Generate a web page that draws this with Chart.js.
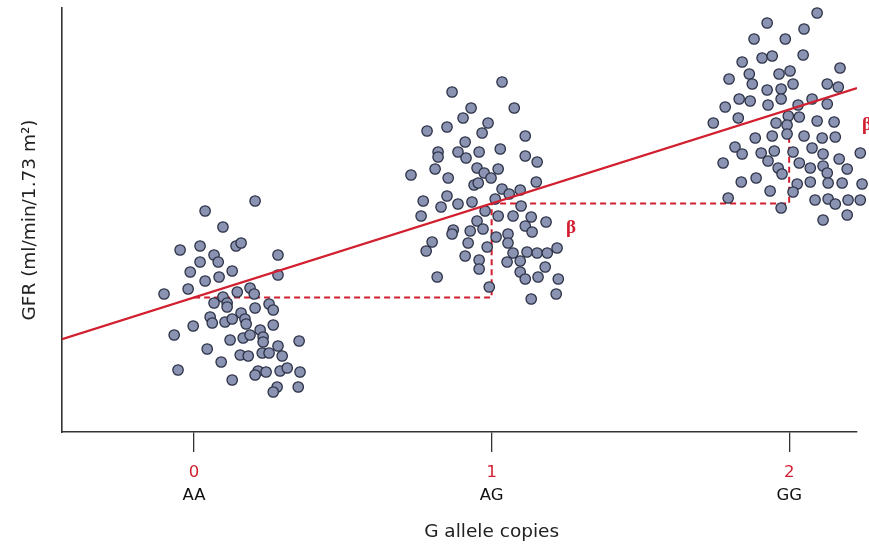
<!DOCTYPE html>
<html lang="en">
<head>
  <meta charset="UTF-8" />
  <title>GFR by G allele copies</title>
  <script src="https://cdn.jsdelivr.net/npm/chart.js"></script>
  <style>
    *{margin:0;padding:0;box-sizing:border-box}
    html,body{width:869px;height:545px;background:#fff;overflow:hidden}
    .wrap{position:relative;width:869px;height:545px}
  </style>
</head>
<body>
  <div class="wrap"><canvas id="chart"></canvas></div>
  <script>
    // x axis ticks and labels
    const alleleCounts = [0, 1, 2];
    const genotypes = ['AA', 'AG', 'GG'];
    const xTitle = 'G allele copies';
    const yTitle = 'GFR (ml/min/1.73 m²)';

    // AA group (x = allele copies incl. jitter, y = GFR, arbitrary units)
    const aaX = [0.205,0.037,0.097,-0.047,0.020,0.141,0.158,0.067,0.081,0.282,0.020,-0.013,0.128,0.037,0.084,0.282,
      -0.101,-0.020,0.145,0.188,0.202,0.097,0.067,0.111,0.111,0.252,0.266,0.205,0.158,0.054,0.061,0.104,0.128,0.171,
      0.175,-0.003,0.266,-0.067,0.121,0.165,0.188,0.222,0.232,0.232,0.353,0.044,0.282,0.155,0.182,0.229,0.252,0.296,
      0.091,-0.054,0.215,0.242,0.289,0.313,0.356,0.128,0.205,0.279,0.266,0.350];
    const aaY = [57.75,55.25,51.25,45.5,46.5,46.5,47.25,44.25,42.5,44.25,42.5,40,40.25,37.75,38.75,39.25,
      34.5,35.75,35,36,34.5,33.75,32.25,32.25,31.25,32,30.5,31,29.75,28.75,27.25,27.5,28.25,28.25,
      27,26.5,26.75,24.25,23,23.5,24.25,25.5,23.75,22.5,22.75,20.75,21.5,19.25,19,19.75,19.75,19,
      17.5,15.5,15.25,15,15.25,16,15,13,14.25,11.25,10,11.25];

    // AG group
    const agX = [1.035,0.867,0.931,1.076,0.904,0.988,0.783,0.850,0.968,1.113,0.911,0.820,0.820,0.887,0.914,0.958,
      1.029,1.113,1.153,0.810,0.729,0.951,0.975,0.998,1.022,0.854,0.941,0.955,1.150,1.035,1.059,1.096,0.850,0.770,
      0.887,0.934,1.012,0.830,1.099,0.978,0.763,0.951,1.022,1.072,1.133,1.183,0.871,0.867,0.928,0.971,1.113,1.136,
      1.015,1.055,1.055,0.800,0.780,0.921,0.985,1.072,1.119,1.153,1.187,1.220,0.911,0.958,0.958,1.052,1.096,1.096,
      1.113,1.156,1.180,1.224,0.817,0.992,1.133,1.217];
    const agY = [87.5,85,81,81,78.5,77.25,75.25,76.25,74.75,74,72.5,70,68.75,70,68.5,70,
      70.75,69,67.5,65.75,64.25,66,64.75,63.5,65.75,63.5,61.75,62.25,62.5,60.75,59.5,60.5,59,57.75,
      57,57.5,58.25,56.25,56.5,55.25,54,52.75,54,54,53.75,52.5,50.5,49.5,50.25,50.75,51.5,50,
      48.75,49.5,47.25,47.5,45.25,47.25,46.25,44.75,45,44.75,44.75,46,44,43,40.75,42.5,42.75,40,
      38.25,38.75,41.25,38.25,38.75,36.25,33.25,34.5];

    // GG group
    const ggX = [2.094,1.926,2.050,1.882,1.987,1.909,1.943,2.047,1.842,2.171,1.866,1.876,1.966,2.003,1.798,1.926,
      1.973,2.013,2.128,2.165,1.832,1.869,1.929,1.973,2.030,2.077,2.128,1.785,1.829,1.997,2.034,1.745,2.094,2.151,
      1.956,1.993,1.943,1.886,1.993,2.050,2.111,2.155,1.818,1.842,1.906,1.950,2.013,2.077,2.114,2.239,1.778,1.929,
      2.034,2.071,2.114,2.168,1.963,1.976,2.128,2.195,1.839,1.889,2.027,2.013,2.071,2.131,2.178,2.245,1.936,1.795,
      2.087,2.131,2.155,2.198,2.239,1.973,2.114,2.195];
    const ggY = [104.75,102.25,100.75,98.25,98.25,93.5,94,94.25,92.5,91,89.5,87,89.5,90.25,88.25,85.5,
      85.75,87,87,86.25,83.25,82.75,81.75,83.25,81.75,83.25,82,81.25,78.5,79,78.75,77.25,77.75,77.5,
      77.25,76.75,74,73.5,74.5,74,73.5,73.75,71.25,69.5,69.75,70.25,70,71,69.5,69.75,67.25,67.75,
      67.25,66,66.5,68.25,66,64.5,64.75,65.75,62.5,63.5,62,60,62.5,62.25,62.25,62,60.25,58.5,
      58,58.25,57,58,58,56,53,54.25];

    // regression line ends and the beta steps
    const fitX = [-0.444, 2.228];
    const fitY = [23.2, 86.0];
    const stepX = [0, 1, 1, 2, 2];
    const stepY = [33.6, 33.6, 57.1, 57.1, 79.3];
    const betaX = [1.267, 2.262];
    const betaY = [51, 76.75];

    const RED = '#d21f2f';
    const FONT = '"DejaVu Sans", "Liberation Sans", sans-serif';
    const pts = (xs, ys) => xs.map((x, i) => ({x: x, y: ys[i]}));
    const dotStyle = {
      type: 'scatter', pointRadius: 5.2, pointHoverRadius: 5.2, pointBorderWidth: 1.3,
      backgroundColor: '#8a93b1', borderColor: '#2c3146', clip: false, order: 1
    };

    // beta labels and the x title (centred under x = 1, as in the figure)
    const annotations = {
      id: 'annotations',
      afterDraw(chart) {
        const {ctx, scales: {x, y}} = chart;
        ctx.save();
        ctx.textAlign = 'center';
        ctx.textBaseline = 'middle';
        ctx.fillStyle = RED;
        ctx.font = 'bold 19px "Liberation Serif", serif';
        betaX.forEach((v, i) => ctx.fillText('β', x.getPixelForValue(v), y.getPixelForValue(betaY[i])));
        ctx.fillStyle = '#222';
        ctx.font = '18.5px ' + FONT;
        ctx.fillText(xTitle, x.getPixelForValue(alleleCounts[1]), 532);
        ctx.restore();
      }
    };

    new Chart(document.getElementById('chart'), {
      data: {
        datasets: [
          Object.assign({label: 'AA', data: pts(aaX, aaY)}, dotStyle),
          Object.assign({label: 'AG', data: pts(agX, agY)}, dotStyle),
          Object.assign({label: 'GG', data: pts(ggX, ggY)}, dotStyle),
          { type: 'line', label: 'steps', data: pts(stepX, stepY), borderColor: RED, borderWidth: 2,
            borderDash: [6, 4], pointRadius: 0, fill: false, order: 3 },
          { type: 'line', label: 'fit', data: pts(fitX, fitY), borderColor: RED, borderWidth: 2.2,
            pointRadius: 0, fill: false, order: 0 }
        ]
      },
      options: {
        responsive: true,
        maintainAspectRatio: false,
        animation: false,
        events: [],
        layout: { padding: { left: 15, top: 8, right: 12, bottom: 36 } },
        plugins: { legend: { display: false }, tooltip: { enabled: false } },
        scales: {
          x: {
            type: 'linear', position: 'bottom', weight: 0, min: -0.444, max: 2.228,
            afterBuildTicks: s => { s.ticks = alleleCounts.map(v => ({value: v})); },
            afterFit: s => { s.height = 51; },
            grid: { display: true, drawOnChartArea: false, drawTicks: true, tickLength: 20, color: '#333', lineWidth: 1.3 },
            border: { display: true, color: '#333', width: 1.6 },
            ticks: { color: RED, padding: 11, autoSkip: false, maxRotation: 0,
              font: { size: 16.5, family: FONT },
              callback: v => String(v) }
          },
          x2: {
            type: 'linear', position: 'bottom', weight: 1, min: -0.444, max: 2.228,
            afterBuildTicks: s => { s.ticks = alleleCounts.map(v => ({value: v})); },
            afterFit: s => { s.height = 26; },
            grid: { display: false, drawTicks: false },
            border: { display: false },
            ticks: { color: '#111', padding: 3, autoSkip: false, maxRotation: 0,
              font: { size: 16.5, family: FONT },
              callback: v => genotypes[alleleCounts.indexOf(v)] }
          },
          y: {
            type: 'linear', position: 'left', min: 0, max: 106,
            afterFit: s => { s.width = 47; },
            grid: { display: false },
            border: { display: true, color: '#333', width: 1.6 },
            ticks: { display: false },
            title: { display: true, text: yTitle, color: '#222',
              font: { size: 18.5, family: FONT } }
          }
        }
      },
      plugins: [annotations]
    });
  </script>
</body>
</html>
